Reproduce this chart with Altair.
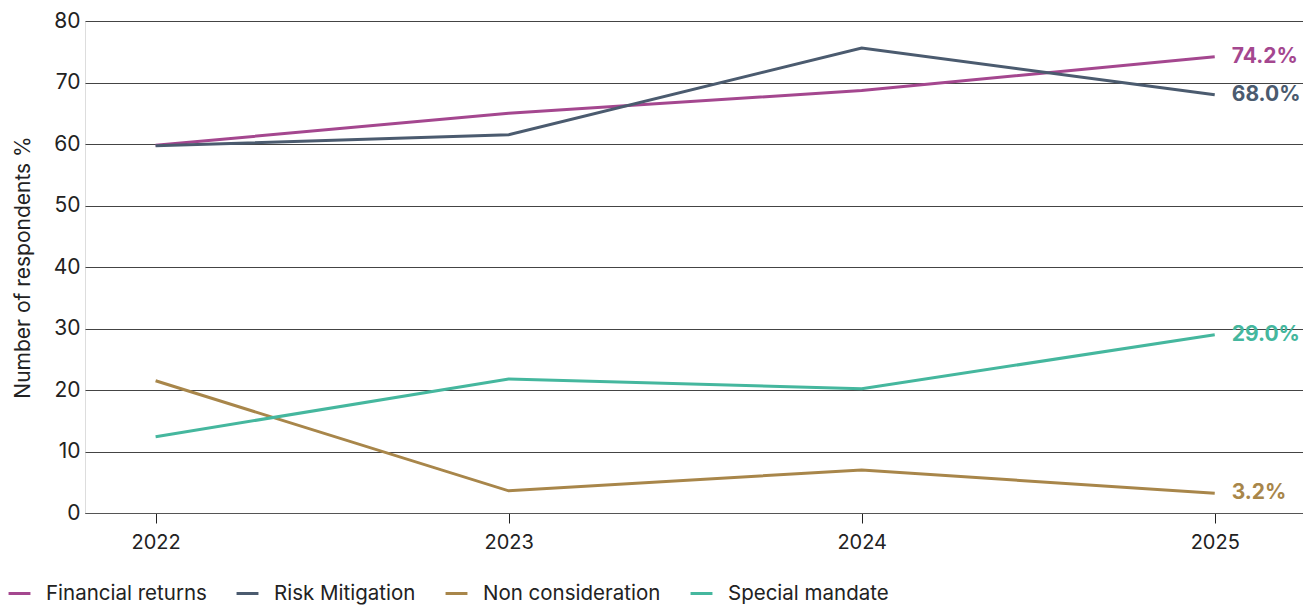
import altair as alt
import pandas as pd

years = [2022, 2023, 2024, 2025]
series = ["Financial returns", "Risk Mitigation", "Non consideration", "Special mandate"]
financial_returns = [59.8, 65.0, 68.7, 74.2]
risk_mitigation = [59.7, 61.5, 75.6, 68.0]
non_consideration = [21.5, 3.6, 7.0, 3.2]
special_mandate = [12.4, 21.8, 20.2, 29.0]
colors = ["#a4478f", "#4b5b6f", "#a8864a", "#45b79e"]

values = [financial_returns, risk_mitigation, non_consideration, special_mandate]
rows = []
for name, vals in zip(series, values):
    for y, v in zip(years, vals):
        rows.append({"Year": y, "Series": name, "Value": v})
df = pd.DataFrame(rows)
last = df[df["Year"] == years[-1]].copy()
last["Label"] = last["Value"].map(lambda v: f"{v:.1f}%")

FONT = "Inter"

color = alt.Color(
    "Series:N",
    scale=alt.Scale(domain=series, range=colors),
    legend=alt.Legend(
        title=None,
        orient="none",
        legendX=-78,
        legendY=560,
        direction="horizontal",
        symbolType="stroke",
        symbolStrokeWidth=3,
        symbolSize=480,
        labelFontSize=20.5,
        labelFont=FONT,
        labelColor="#222222",
        labelLimit=400,
        labelOffset=14,
        columnPadding=23,
        symbolOffset=0,
    ),
)

x = alt.X(
    "Year:Q",
    scale=alt.Scale(domain=[2021.8, 2025.25], nice=False, zero=False),
    axis=alt.Axis(
        values=years,
        format="d",
        title=None,
        grid=False,
        domain=True,
        domainColor="#555555",
        ticks=True,
        tickColor="#222222",
        tickSize=10,
        labelFontSize=20,
        labelFont=FONT,
        labelColor="#222222",
        labelPadding=9,
    ),
)
y = alt.Y(
    "Value:Q",
    scale=alt.Scale(domain=[0, 80], nice=False),
    axis=alt.Axis(
        values=[0, 10, 20, 30, 40, 50, 60, 70, 80],
        title="Number of respondents %",
        titleFont=FONT,
        titleFontSize=21,
        titleFontWeight="normal",
        titleColor="#222222",
        titlePadding=20,
        domain=False,
        ticks=False,
        grid=True,
        gridColor="#444444",
        gridWidth=1,
        labelFontSize=21,
        labelFont=FONT,
        labelColor="#222222",
        labelPadding=5,
    ),
)

lines = alt.Chart(df).mark_line(strokeWidth=3).encode(x=x, y=y, color=color)
labels = alt.Chart(last).mark_text(
    align="left", baseline="middle", dx=17, fontSize=21, fontWeight="bold", font=FONT
).encode(
    x="Year:Q",
    y="Value:Q",
    text="Label:N",
    color=alt.Color("Series:N", scale=alt.Scale(domain=series, range=colors), legend=None),
)

chart = (
    alt.layer(lines, labels)
    .properties(
        width=1218,
        height=492,
        autosize=alt.AutoSizeParams(type="none"),
        padding={"left": 85, "top": 21, "right": 0, "bottom": 93},
    )
    .configure_view(stroke=None)
    .configure(background="white")
)

chart.save("out.html", embed_options={"renderer": "svg", "actions": False})
